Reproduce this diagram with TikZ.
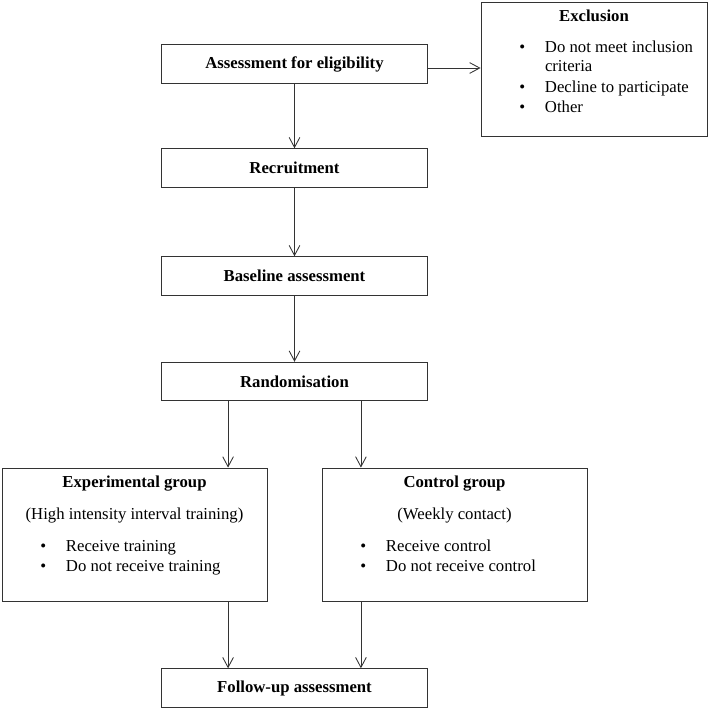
\documentclass[tikz,border=0pt]{standalone}
\usepackage{fontspec}
\setmainfont{Liberation Serif}
\usetikzlibrary{arrows.meta}

\newcommand{\bulletline}[1]{\makebox[\linewidth][l]{\hspace*{26.9pt}\makebox[17.9pt][l]{\textbullet}#1}\par}
\newcommand{\contline}[1]{\makebox[\linewidth][l]{\hspace*{44.8pt}#1}\par}

\begin{document}
\begin{tikzpicture}[x=0.7pt,y=-0.7pt,
   font=\fontsize{11.7}{14}\selectfont,
   line/.style={draw=black!80,line width=0.6pt},
   box/.style={rectangle,line,minimum width=186pt,
    minimum height=27pt,inner sep=0pt,font=\fontsize{11.7}{14}\selectfont\bfseries},
   bigbox/.style={rectangle,line,inner sep=0pt},
   arr/.style={line,-{Straight Barb[length=7pt,width=7.5pt]}}
    ]
  \useasboundingbox (0,0) rectangle (709,710);

  % -- main column
  \node[box] at (294.5,64) (elig) {Assessment for eligibility};
  \node[box] at (294.5,168) (recruit) {Recruitment};
  \node[box] at (294.5,276) (baseline) {Baseline assessment};
  \node[box] at (294.5,381.5) (random) {Randomisation};
  \node[box] at (294.5,688) (followup) {Follow-up assessment};

  % -- exclusion
  \node[bigbox] at (594,69) (excl) {\parbox[c][93.8pt][t]{158.2pt}{\centering
    \rule{0pt}{13.3pt}\textbf{Exclusion}\par\vspace{7.7pt}
    \bulletline{Do not meet inclusion}\contline{criteria}
    \bulletline{Decline to participate}\bulletline{Other}}};

  % -- groups
  \node[bigbox] at (134.5,534.5) (expgrp) {\parbox[c][93.1pt][t]{185.5pt}{\centering
    \rule{0pt}{13.3pt}\textbf{Experimental group}\par\vspace{8.4pt}
    (High intensity interval training)\par\vspace{8.4pt}
    \bulletline{Receive training}\bulletline{Do not receive training}}};
  \node[bigbox] at (454.5,534.5) (ctrlgrp) {\parbox[c][93.1pt][t]{185.5pt}{\centering
    \rule{0pt}{13.3pt}\textbf{Control group}\par\vspace{8.4pt}
    (Weekly contact)\par\vspace{8.4pt}
    \bulletline{Receive control}\bulletline{Do not receive control}}};

  % -- arrows
  \coordinate (exclin) at ([yshift=-2.8pt]elig.east);
  \draw[arr] (exclin) -- (exclin -| excl.west);
  \draw[arr] (elig) -- (recruit);
  \draw[arr] (recruit) -- (baseline);
  \draw[arr] (baseline) -- (random);
  \coordinate (left) at ([xshift=-46.5pt]random.south);
  \coordinate (right) at ([xshift=46.5pt]random.south);
  \draw[arr] (left) -- (left |- expgrp.north);
  \draw[arr] (right) -- (right |- ctrlgrp.north);
  \draw[arr] (left |- expgrp.south) -- (left |- followup.north);
  \draw[arr] (right |- ctrlgrp.south) -- (right |- followup.north);
\end{tikzpicture}
\end{document}
